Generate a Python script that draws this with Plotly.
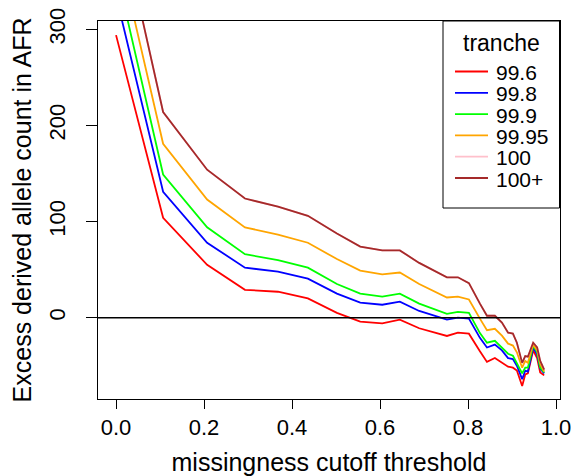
import plotly.graph_objects as go

threshold = [0, 0.107, 0.207, 0.293, 0.368, 0.436, 0.502, 0.555, 0.605, 0.645,
             0.689, 0.752, 0.777, 0.802, 0.827, 0.843, 0.861, 0.877, 0.891, 0.902,
             0.911, 0.923, 0.930, 0.936, 0.948, 0.957, 0.964, 0.973]

t_99_6 = [294, 104, 55, 29, 27, 20, 5, -4, -6, -2, -11, -19, -15.6, -16.6, -35, -46,
          -42, -47, -51, -52, -55, -71, -59, -58, -34, -42, -57, -60]
t_99_8 = [335, 131, 78, 52, 48, 40.6, 25, 15.6, 13.5, 16.7, 7, -2, 0, -1, -21, -31,
          -28, -34, -42, -43, -50, -64, -55, -56, -31, -38.5, -53, -58]
t_99_9 = [362, 149, 94, 66, 60, 52, 35, 25, 22, 25, 14.6, 4, 6, 5, -16, -26,
          -24, -31, -37.5, -39.6, -47, -58, -52, -52, -29, -36, -52, -57]
t_99_95 = [393, 181, 123, 94, 86.5, 78, 61, 49, 45, 47, 35, 21, 22, 19, -1, -13,
           -11.5, -18.7, -27, -29, -36, -52, -45, -47, -28, -34, -48, -56]
t_100 = [433, 214, 154, 124, 115.6, 106, 87.5, 74, 70, 70, 57, 42, 42, 36, 14.6, 2,
         2, -5, -15.6, -16.6, -26, -47, -40, -40.6, -26, -31, -45, -54]
t_100p = [433, 214, 154, 124, 115.6, 106, 87.5, 74, 70, 70, 57, 42, 42, 36, 14.6, 2,
          2, -5, -15.6, -16.6, -26, -47, -40, -40.6, -26, -31, -45, -54]

tranche_names = ["99.6", "99.8", "99.9", "99.95", "100", "100+"]
tranche_values = [t_99_6, t_99_8, t_99_9, t_99_95, t_100, t_100p]
tranche_colors = ["#FF0000", "#0000FF", "#00FF00", "#FFA500", "#FFC0CB", "#A52A2A"]
legend_title = "tranche"

x_ticks = [0.0, 0.2, 0.4, 0.6, 0.8, 1.0]
x_ticklabels = ["0.0", "0.2", "0.4", "0.6", "0.8", "1.0"]
y_ticks = [0, 100, 200, 300]

FONT = "Liberation Sans, Arial, Helvetica, sans-serif"
W, H = 577, 476
ML, MR, MT, MB = 98, 17, 21, 77
PW, PH = W - ML - MR, H - MT - MB


def px(xp):
    return (xp - ML) / PW


def py(yp):
    return (H - MB - yp) / PH


fig = go.Figure()
for name, vals, col in zip(tranche_names, tranche_values, tranche_colors):
    fig.add_trace(go.Scatter(x=threshold, y=vals, mode="lines", name=name,
                             line=dict(color=col, width=1.8), showlegend=False,
                             hoverinfo="skip"))

fig.add_shape(type="line", xref="paper", yref="y", x0=0, x1=1, y0=0, y1=0,
              line=dict(color="black", width=1.5))

# legend box (R style) drawn in paper coordinates
fig.add_shape(type="rect", xref="paper", yref="paper",
              x0=px(443), x1=px(559.5), y0=py(208), y1=py(21),
              line=dict(color="black", width=1), fillcolor="white", layer="above")
fig.add_annotation(xref="paper", yref="paper", x=px(501), y=py(43),
                   text=legend_title, showarrow=False, xanchor="center", yanchor="middle",
                   font=dict(size=23, family=FONT, color="black"), borderpad=0)
for i, (name, col) in enumerate(zip(tranche_names, tranche_colors)):
    yy = 71.5 + 21.3 * i
    fig.add_shape(type="line", xref="paper", yref="paper",
                  x0=px(455), x1=px(488), y0=py(yy), y1=py(yy),
                  line=dict(color=col, width=1.8), layer="above")
    fig.add_annotation(xref="paper", yref="paper", x=px(495), y=py(yy + 1),
                       text=name, showarrow=False, xanchor="left", yanchor="middle",
                       font=dict(size=21, family=FONT, color="black"), borderpad=0)

fig.update_layout(
    width=W, height=H,
    margin=dict(l=ML, r=MR, t=MT, b=MB),
    paper_bgcolor="white", plot_bgcolor="white",
    font=dict(family=FONT, color="black", size=22),
    showlegend=False,
    xaxis=dict(
        range=[-0.041, 1.009], tickvals=x_ticks, ticktext=x_ticklabels,
        ticks="outside", ticklen=9, tickwidth=1, tickcolor="black",
        showline=True, linecolor="black", linewidth=1, mirror=True,
        showgrid=False, zeroline=False, automargin=False,
        tickfont=dict(size=22, family=FONT),
        title=dict(text="missingness cutoff threshold", font=dict(size=25, family=FONT), standoff=15),
    ),
    yaxis=dict(
        range=[-84.6, 308.7], tickvals=y_ticks,
        ticks="outside", ticklen=11, tickwidth=1, tickcolor="black",
        showline=True, linecolor="black", linewidth=1, mirror=True,
        showgrid=False, zeroline=False, tickangle=-90, ticklabelstandoff=12,
        automargin=False,
        tickfont=dict(size=22, family=FONT),
        title=dict(text="Excess derived allele count in AFR", font=dict(size=25, family=FONT), standoff=6),
    ),
)

fig.write_html("out.html", config={"displayModeBar": False},
               post_script="document.body.style.margin='0px';")
